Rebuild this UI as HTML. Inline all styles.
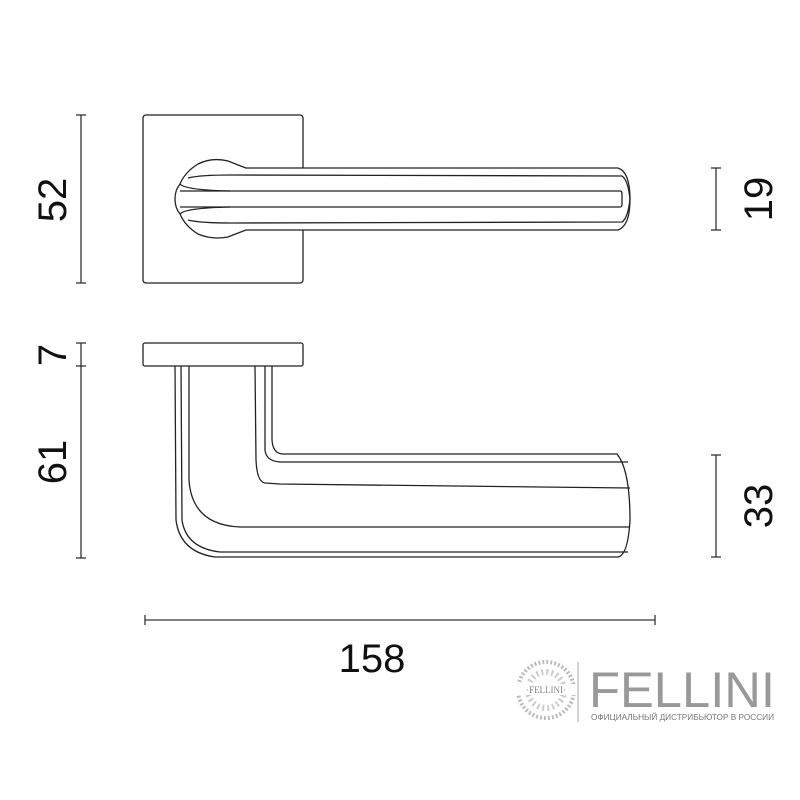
<!DOCTYPE html>
<html><head><meta charset="utf-8"><style>
body{margin:0;background:#fff;width:800px;height:800px;overflow:hidden}
svg{display:block}
.d{font-family:"Liberation Sans",sans-serif;font-size:40px;fill:#111}
</style></head><body>
<svg width="800" height="800" viewBox="0 0 800 800" xmlns="http://www.w3.org/2000/svg">
<g fill="none" stroke="#222" stroke-width="1.3">
<!-- top view -->
<rect x="143" y="115" width="160" height="168" rx="3"/>
<path d="M246 168 L618 168 Q630 172 630 199 Q630 226 618 230 L246 230 Q238 233 228 237 Q212 240 198 234 Q185 226 180 214 Q175 208 175 199 Q175 190 180 184 Q185 172 198 164 Q212 157 228 161 Q238 165 246 168 Z" fill="#fff"/>
<path d="M188 178 Q200 175 230 175 L622 176 Q628 180 630 199"/>
<path d="M188 220 Q200 223 230 223 L622 222 Q628 218 630 199"/>
<path d="M180 184 Q185 190 230 191"/>
<path d="M180 214 Q185 208 230 207"/>
<path d="M180 191 L620 191 Q622 191 622 194 L622 204 Q622 207 620 207 L180 207"/>
<!-- side view -->
<rect x="143" y="343" width="160" height="23" rx="2"/>
<path d="M175 366 L176 520 Q180 552 215 557 L618 557 Q628 555 630 520 Q630 470 617 454 L283 454 Q273 454 272 440 L272 366"/>
<path d="M181 366 L182 520 Q186 548 220 552 L628 552"/>
<path d="M189 366 L189 480 Q192 525 240 527 L630 527"/>
<path d="M255 366 L256 460 Q257 482 265 483 L280 484 L630 488"/>
<path d="M265 366 L265 450 Q266 461 280 462 L628 462"/>
</g>
<g stroke="#333" stroke-width="1.3">
<line x1="81" y1="115" x2="81" y2="283"/><line x1="76" y1="115" x2="86" y2="115"/><line x1="76" y1="283" x2="86" y2="283"/>
<line x1="81" y1="343" x2="81" y2="558"/><line x1="76" y1="343" x2="86" y2="343"/><line x1="76" y1="366" x2="86" y2="366"/><line x1="76" y1="558" x2="86" y2="558"/>
<line x1="716" y1="168" x2="716" y2="230"/><line x1="711" y1="168" x2="721" y2="168"/><line x1="711" y1="230" x2="721" y2="230"/>
<line x1="716" y1="455" x2="716" y2="557"/><line x1="711" y1="455" x2="721" y2="455"/><line x1="711" y1="557" x2="721" y2="557"/>
<line x1="145" y1="620" x2="655" y2="620"/><line x1="145" y1="615" x2="145" y2="625"/><line x1="655" y1="615" x2="655" y2="625"/>
</g>
<text class="d" transform="translate(66,200) rotate(-90)" text-anchor="middle">52</text>
<text class="d" transform="translate(66,355) rotate(-90)" text-anchor="middle">7</text>
<text class="d" transform="translate(66,462) rotate(-90)" text-anchor="middle">61</text>
<text class="d" transform="translate(772,199) rotate(-90)" text-anchor="middle">19</text>
<text class="d" transform="translate(772,506) rotate(-90)" text-anchor="middle">33</text>
<text class="d" x="372" y="672" text-anchor="middle">158</text>
<!-- logo -->
<circle cx="546" cy="690" r="28" fill="none" stroke="#bbb" stroke-width="4" stroke-dasharray="2 2"/>
<circle cx="546" cy="690" r="18" fill="none" stroke="#ccc" stroke-width="6" stroke-dasharray="2 3"/>
<rect x="516" y="684" width="60" height="11" fill="#fff"/>
<text x="546" y="693" font-family="Liberation Serif,serif" font-size="9" fill="#888" text-anchor="middle">·FELLINI·</text>
<line x1="578" y1="662" x2="578" y2="722" stroke="#aaa" stroke-width="1"/>
<text x="589" y="707" font-family="Liberation Sans,sans-serif" font-size="50" fill="#999" textLength="186" lengthAdjust="spacingAndGlyphs">FELLINI</text>
<text x="591" y="720" font-family="Liberation Sans,sans-serif" font-size="8" fill="#777" textLength="183" lengthAdjust="spacingAndGlyphs">ОФИЦИАЛЬНЫЙ ДИСТРИБЬЮТОР В РОССИИ</text>
</svg>
</body></html>
